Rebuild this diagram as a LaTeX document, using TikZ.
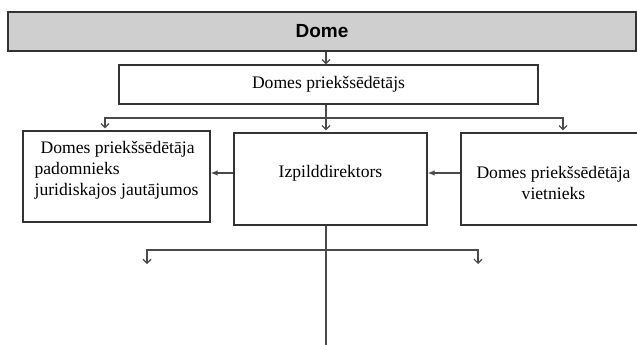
\documentclass[tikz,border=0pt]{standalone}
\usepackage{fontspec}
\setmainfont{Liberation Serif}
\setsansfont{Liberation Sans}
\usepackage{tikz}
\usetikzlibrary{arrows.meta, positioning}
\usepackage{xcolor}
\definecolor{boxline}{HTML}{333333}
\definecolor{wire}{HTML}{4A4A4A}
\definecolor{domegray}{HTML}{CFCFCF}

\begin{document}
\begin{tikzpicture}[x=1pt,y=-1pt,
    box/.style={draw=boxline, line width=1.3pt, rectangle, inner sep=0pt, align=center,
        font=\fontsize{17.6}{21}\selectfont},
    ln/.style={draw=wire, line width=1.2pt},
    dn/.style={ln, -{Straight Barb[length=4pt,width=8pt]}, shorten >=2pt},
    lf/.style={ln, -{Latex[length=7pt,width=5.5pt]}}]
    \useasboundingbox (0,0) rectangle (637,345);
    \node[box, fill=domegray, minimum width=628pt, minimum height=39pt,
        font=\sffamily\bfseries\fontsize{19}{23}\selectfont] (dome) at (322,31.5) {Dome};
    \node[box, minimum width=419pt, minimum height=39pt] (chair) at (328.5,84.5) {Domes priekšsēdētājs};
    \node[box, minimum width=187pt, minimum height=91pt, align=left, text depth=16pt] (adv) at (116.5,176.5)
        {\hspace*{6pt}Domes priekšsēdētāja\\padomnieks\\juridiskajos jautājumos};
    \node[box, minimum width=193pt, minimum height=92pt, text depth=15pt] (exec) at (330.5,179) {Izpilddirektors};
    \node[box, minimum width=185pt, minimum height=92pt, text height=40.5pt] (vice) at (553.5,179)
        {Domes priekšsēdētāja\\vietnieks};
    \coordinate (fork) at (326,118);
    \coordinate (fork2) at (326,250);
    \coordinate (tail) at (326,345);
    \coordinate (subL) at (147,264);
    \coordinate (subR) at (478,264);
    \draw[dn, shorten >=0pt] (dome.south -| fork) -- (chair.north -| fork);
    \draw[ln] (chair.south -| fork) -- (fork);
    \draw[dn] (fork) -| ([xshift=-11.5pt]adv.north);
    \draw[dn] (fork) -- (exec.north -| fork);
    \draw[dn] (fork) -| ([xshift=9.5pt]vice.north);
    \draw[lf] ([yshift=6pt]vice.west) -- ([yshift=6pt]exec.east);
    \draw[lf] ([yshift=6pt]exec.west) -- ([yshift=6pt]exec.west -| adv.east);
    \draw[ln] (exec.south -| tail) -- (tail);
    \draw[dn, shorten >=0pt] (fork2) -| (subL);
    \draw[dn, shorten >=0pt] (fork2) -| (subR);
\end{tikzpicture}
\end{document}
